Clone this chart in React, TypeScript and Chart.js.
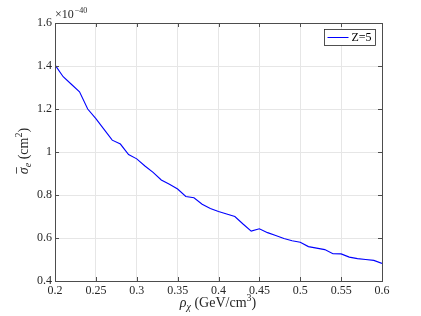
import React, { useEffect, useRef } from "react";
import { Chart, registerables } from "chart.js";

Chart.register(...registerables);

const rho: number[] = [
  0.2, 0.21, 0.22, 0.23, 0.24, 0.25, 0.26, 0.27, 0.28, 0.29, 0.3, 0.31, 0.32, 0.33, 0.34,
  0.35, 0.36, 0.37, 0.38, 0.39, 0.4, 0.41, 0.42, 0.43, 0.44, 0.45, 0.46, 0.47, 0.48, 0.49,
  0.5, 0.51, 0.52, 0.53, 0.54, 0.55, 0.56, 0.57, 0.58, 0.59, 0.6,
];
const sigmaZ5: number[] = [
  1.405, 1.35, 1.315, 1.28, 1.2, 1.155, 1.105, 1.055, 1.037, 0.988, 0.968, 0.935, 0.905, 0.87,
  0.85, 0.828, 0.793, 0.787, 0.757, 0.737, 0.723, 0.712, 0.7, 0.665, 0.632, 0.643, 0.625,
  0.612, 0.598, 0.587, 0.58, 0.56, 0.553, 0.546, 0.527, 0.526, 0.511, 0.504, 0.5, 0.496, 0.482,
];
const xTicks: number[] = [0.2, 0.25, 0.3, 0.35, 0.4, 0.45, 0.5, 0.55, 0.6];
const yTicks: number[] = [0.4, 0.6, 0.8, 1, 1.2, 1.4, 1.6];
const seriesLabel = "Z=5";

const FONT = "'Liberation Serif', 'DejaVu Serif', serif";
const AXIS = "#4d4d4d";

const decor = {
  id: "decor",
  afterDraw(chart: any) {
    const ctx = chart.ctx as CanvasRenderingContext2D;
    const { left, right, top, bottom } = chart.chartArea;
    const xs = chart.scales.x;
    const ys = chart.scales.y;
    ctx.save();
    // frame
    ctx.strokeStyle = AXIS;
    ctx.lineWidth = 1;
    ctx.strokeRect(Math.round(left) + 0.5, Math.round(top) + 0.5, Math.round(right - left), Math.round(bottom - top));
    // inward ticks
    const tl = 4;
    ctx.beginPath();
    xTicks.forEach((v) => {
      const px = Math.round(xs.getPixelForValue(v)) + 0.5;
      ctx.moveTo(px, bottom);
      ctx.lineTo(px, bottom - tl);
      ctx.moveTo(px, top);
      ctx.lineTo(px, top + tl);
    });
    yTicks.forEach((v) => {
      const py = Math.round(ys.getPixelForValue(v)) + 0.5;
      ctx.moveTo(left, py);
      ctx.lineTo(left + tl, py);
      ctx.moveTo(right, py);
      ctx.lineTo(right - tl, py);
    });
    ctx.stroke();

    // exponent label
    ctx.fillStyle = "#262626";
    ctx.textBaseline = "alphabetic";
    ctx.textAlign = "left";
    ctx.font = `12px ${FONT}`;
    ctx.fillText("\u00d710", left, top - 5);
    const w1 = ctx.measureText("\u00d710").width;
    ctx.font = `8px ${FONT}`;
    ctx.fillText("\u221240", left + w1 + 1, top - 10);

    // x title
    const xc = 218;
    const xb = 307;
    const parts: Array<[string, string, number]> = [
      ["\u03c1", `italic 14px ${FONT}`, 0],
      ["\u03c7", `italic 10px ${FONT}`, 3],
      [" (GeV/cm", `14px ${FONT}`, 0],
      ["3", `10px ${FONT}`, -6],
      [")", `14px ${FONT}`, 0],
    ];
    let tw = 0;
    parts.forEach(([t, f]) => {
      ctx.font = f;
      tw += ctx.measureText(t).width;
    });
    let cx = xc - tw / 2;
    parts.forEach(([t, f, dy]) => {
      ctx.font = f;
      ctx.fillText(t, cx, xb + dy);
      cx += ctx.measureText(t).width;
    });

    // y title (rotated)
    ctx.save();
    ctx.translate(28, 151);
    ctx.rotate(-Math.PI / 2);
    const yparts: Array<[string, string, number]> = [
      ["\u03c3", `italic 14px ${FONT}`, 0],
      ["e", `italic 10px ${FONT}`, 3],
      [" (cm", `14px ${FONT}`, 0],
      ["2", `10px ${FONT}`, -6],
      [")", `14px ${FONT}`, 0],
    ];
    let yw = 0;
    yparts.forEach(([t, f]) => {
      ctx.font = f;
      yw += ctx.measureText(t).width;
    });
    let cy = -yw / 2;
    yparts.forEach(([t, f, dy], i) => {
      ctx.font = f;
      const w = ctx.measureText(t).width;
      ctx.fillText(t, cy, dy);
      if (i === 0) {
        ctx.beginPath();
        ctx.strokeStyle = "#262626";
        ctx.lineWidth = 0.8;
        ctx.moveTo(cy + 0.5, -11.5);
        ctx.lineTo(cy + w, -11.5);
        ctx.stroke();
      }
      cy += w;
    });
    ctx.restore();

    // legend
    const lx = 324.5, ly = 29.5, lw = 51, lh = 16;
    ctx.fillStyle = "#ffffff";
    ctx.fillRect(lx, ly, lw, lh);
    ctx.strokeStyle = "#262626";
    ctx.lineWidth = 0.8;
    ctx.strokeRect(lx, ly, lw, lh);
    ctx.strokeStyle = "#0000ff";
    ctx.lineWidth = 1;
    ctx.beginPath();
    ctx.moveTo(lx + 3, ly + lh / 2);
    ctx.lineTo(lx + 24, ly + lh / 2);
    ctx.stroke();
    ctx.fillStyle = "#000000";
    ctx.font = `12px ${FONT}`;
    ctx.textBaseline = "middle";
    ctx.fillText(seriesLabel, lx + 27, ly + lh / 2 + 0.5);
    ctx.restore();
  },
};

export default function App() {
  const ref = useRef<HTMLCanvasElement>(null);
  useEffect(() => {
    document.body.style.margin = "0";
    const canvas = ref.current!;
    const chart = new Chart(canvas, {
      type: "line",
      data: {
        datasets: [
          {
            label: seriesLabel,
            data: rho.map((x, i) => ({ x, y: sigmaZ5[i] })),
            borderColor: "#0000ff",
            borderWidth: 1.1,
            pointRadius: 0,
            tension: 0,
            fill: false,
          },
        ],
      },
      options: {
        responsive: false,
        animation: false,
        layout: { padding: { top: 23, right: 39, left: 0, bottom: 0 } },
        plugins: { legend: { display: false }, tooltip: { enabled: false } },
        scales: {
          x: {
            type: "linear",
            min: 0.2,
            max: 0.6,
            afterFit: (s: any) => {
              s.height = 35;
            },
            afterBuildTicks: (s: any) => {
              s.ticks = xTicks.map((v) => ({ value: v }));
            },
            ticks: {
              color: "#262626",
              font: { family: FONT, size: 12 },
              padding: 3,
              maxRotation: 0,
              autoSkip: false,
              callback: (v: any) => String(Number(v)),
            },
            grid: { color: "#e6e6e6", drawTicks: false, tickLength: 0 },
            border: { display: false },
          },
          y: {
            type: "linear",
            min: 0.4,
            max: 1.6,
            afterFit: (s: any) => {
              s.width = 55;
            },
            afterBuildTicks: (s: any) => {
              s.ticks = yTicks.map((v) => ({ value: v }));
            },
            ticks: {
              color: "#262626",
              font: { family: FONT, size: 12 },
              padding: 3,
              autoSkip: false,
              callback: (v: any) => String(Number(v)),
            },
            grid: { color: "#e6e6e6", drawTicks: false, tickLength: 0 },
            border: { display: false },
          },
        },
      },
      plugins: [decor],
    });
    return () => chart.destroy();
  }, []);
  return <canvas ref={ref} width={421} height={316} style={{ display: "block" }} />;
}
